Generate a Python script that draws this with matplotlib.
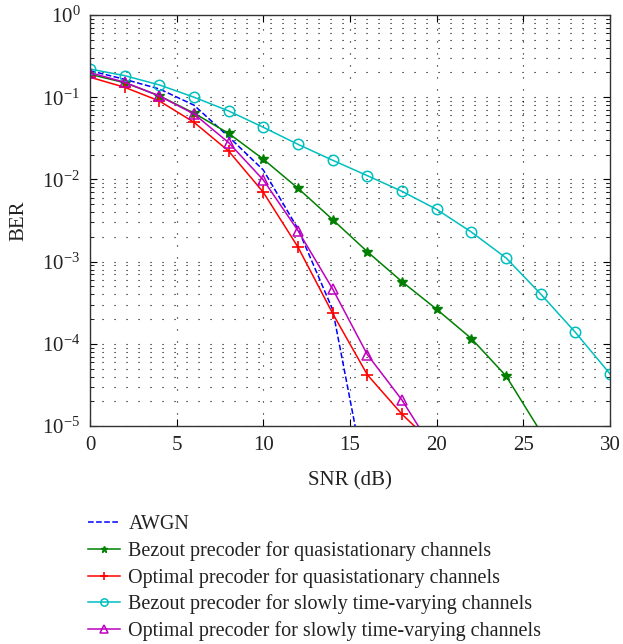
import numpy as np
import matplotlib
matplotlib.use('Agg')
import matplotlib.pyplot as plt

plt.rcParams['font.family'] = 'Liberation Serif'
plt.rcParams['mathtext.fontset'] = 'stix'

# SNR-Achse (dB)
snr = [0, 2, 4, 6, 8, 10, 12, 14, 16, 18, 20, 22, 24, 26, 28, 30]
snr_awgn = [0, 2, 4, 6, 8, 10, 12, 14, 16]

# BER-Werte
ber_awgn = [0.21, 0.165, 0.126, 0.080, 0.033, 0.013, 0.0025, 2.6e-4, 1.7e-6]
ber_bezout_quasi = [0.19, 0.150, 0.104, 0.064, 0.0363, 0.0176, 0.0078, 0.00324,
                    0.00132, 5.7e-4, 2.63e-4, 1.16e-4, 4.07e-5, 8.5e-6]
ber_opt_quasi = [0.175, 0.132, 0.090, 0.0495, 0.0221, 0.00697, 0.0015, 2.34e-4,
                 4.2e-5, 1.39e-5, 5.5e-6]
ber_bezout_slow = [0.22, 0.183, 0.141, 0.100, 0.068, 0.043, 0.0267, 0.0171,
                   0.0111, 0.00716, 0.00432, 0.00229, 0.00111, 4.04e-4, 1.38e-4, 4.3e-5]
ber_opt_slow = [0.199, 0.152, 0.1035, 0.0625, 0.028, 0.00984, 0.00238, 4.64e-4,
                7.4e-5, 2.07e-5, 4.4e-6]

labels = ['AWGN',
          'Bezout precoder for quasistationary channels',
          'Optimal precoder for quasistationary channels',
          'Bezout precoder for slowly time-varying channels',
          'Optimal precoder for slowly time-varying channels']

fig = plt.figure(figsize=(6.23, 6.44), dpi=100)
ax = fig.add_axes([90/623, 1 - 426/644, 520/623, 411/644])

ax.semilogy(snr_awgn, ber_awgn, '--', color='#0000ff', lw=1.1, label=labels[0])
ax.semilogy(snr[:len(ber_bezout_quasi)], ber_bezout_quasi, '-*', color='#007f00',
            lw=1.1, ms=7, label=labels[1])
ax.semilogy(snr[:len(ber_opt_quasi)], ber_opt_quasi, '-+', color='#ff0000',
            lw=1.1, ms=8, mew=1.2, label=labels[2])
ax.semilogy(snr, ber_bezout_slow, '-o', color='#00bfbf', lw=1.1, ms=7.5,
            mfc='none', mew=1.1, label=labels[3])
ax.semilogy(snr[:len(ber_opt_slow)], ber_opt_slow, '-^', color='#bf00bf', lw=1.1,
            ms=7.5, mfc='none', mew=1.1, label=labels[4])

ax.set_xlim(0, 30)
ax.set_ylim(1e-5, 1)
ax.set_xticks([0, 5, 10, 15, 20, 25, 30])
ax.set_xlabel('SNR (dB)', fontsize=15, color='#222222', labelpad=12)
ax.set_ylabel('BER', fontsize=15, color='#222222', labelpad=10)

# gepunktetes Gitter wie in MATLAB
dots = (0, (1, 9.8))
ax.grid(True, which='major', ls=dots, color='k', lw=0.8)
ax.grid(True, which='minor', axis='y', ls=dots, color='k', lw=0.8)
ax.tick_params(which='both', direction='in', top=True, right=True,
               labelsize=15, labelcolor='#222222')
ax.tick_params(which='major', length=5, pad=7)
ax.tick_params(which='minor', length=3)
for s in ax.spines.values():
    s.set_linewidth(1.0)
    s.set_color('#333333')

fig.legend(loc='upper left', bbox_to_anchor=(70/623, 1 - 497/644), frameon=False,
           fontsize=14.5, handlelength=1.6, labelspacing=0.34, handletextpad=0.4,
           markerscale=0.7, labelcolor='#222222')

fig.savefig('out.png', dpi=100)
